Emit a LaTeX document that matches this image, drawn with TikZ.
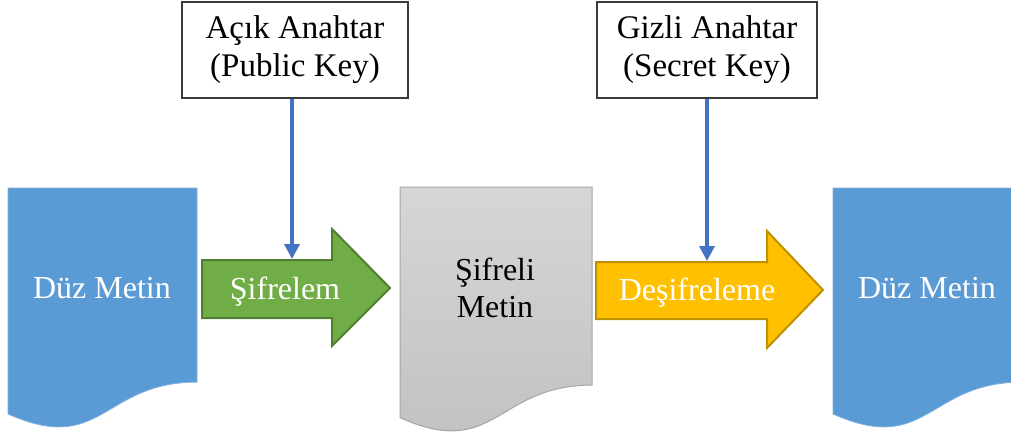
\documentclass[tikz,border=0pt]{standalone}
\usepackage{fontspec}
\setmainfont{Liberation Serif}
\usetikzlibrary{arrows.meta}

\definecolor{docblue}{HTML}{5B9BD5}
\definecolor{docblueedge}{HTML}{7FB1DE}
\definecolor{graytop}{HTML}{D6D6D6}
\definecolor{graybot}{HTML}{C0C0C0}
\definecolor{grayedge}{HTML}{A6A6A6}
\definecolor{encgreen}{HTML}{70AD47}
\definecolor{encedge}{HTML}{507E32}
\definecolor{decyellow}{HTML}{FFC000}
\definecolor{decedge}{HTML}{BF9000}
\definecolor{keyblue}{HTML}{4472C4}
\definecolor{boxedge}{HTML}{3A3A3A}

\begin{document}
\begin{tikzpicture}[x=1pt,y=-1pt,
  bigtext/.style={font=\fontsize{32}{37}\selectfont, align=center, inner sep=0pt},
  keybox/.style={draw=boxedge, line width=1.4pt, fill=white, align=center,
                 font=\fontsize{33}{38}\selectfont, inner sep=0pt,
                 minimum height=96pt},
  keyline/.style={draw=keyblue, line width=3.5pt,
                  -{Triangle[width=15pt,length=15pt]}},
  plaindoc/.style={fill=docblue, draw=docblueedge, line width=0.8pt},
  cipherdoc/.style={top color=graytop, bottom color=graybot, draw=grayedge, line width=1pt},
  encarrow/.style={fill=encgreen, draw=encedge, line width=2pt, line join=miter},
  decarrow/.style={fill=decyellow, draw=decedge, line width=2pt, line join=miter}
]
\useasboundingbox (0,0) rectangle (1011,434);

% plain text document (left)
\path[plaindoc] (8,188) -- (197,188) -- (197,382.1)
  .. controls (102.5,382.1) and (102.5,456) .. (8,414) -- cycle;
\node[bigtext, text=white] (plainL) at (102,288) {Düz Metin};

% cipher text document (middle)
\path[cipherdoc] (400,187) -- (592,187) -- (592,385.1)
  .. controls (496,385.1) and (496,460.5) .. (400,417.7) -- cycle;
\node[bigtext] (cipher) at (495,288) {Şifreli\\Metin};

% plain text document (right, runs past the edge)
\begin{scope}
\clip (0,0) rectangle (1011,434);
\path[plaindoc] (833,188) -- (1022,188) -- (1022,382.1)
  .. controls (927.5,382.1) and (927.5,456) .. (833,414) -- cycle;
\end{scope}
\node[bigtext, text=white] (plainR) at (927,288) {Düz Metin};

% encryption arrow
\path[encarrow] (202,260) -- (332,260) -- (332,229) -- (390,288)
  -- (332,346) -- (332,318) -- (202,318) -- cycle;
\node[bigtext, text=white] (enc) at (285,292) {Şifrelem};
\coordinate (encTop) at (292,259);

% decryption arrow
\path[decarrow] (596,262) -- (767,262) -- (767,231) -- (823,290)
  -- (767,348) -- (767,319) -- (596,319) -- cycle;
\node[bigtext, text=white] (dec) at (697,293) {Deşifreleme};
\coordinate (decTop) at (707,261);

% key boxes
\node[keybox, minimum width=226pt] (pub) at (295,50) {Açık Anahtar\\(Public Key)};
\node[keybox, minimum width=220pt] (sec) at (707,50) {Gizli Anahtar\\(Secret Key)};

% key inputs
\draw[keyline] (pub.south -| encTop) -- (encTop);
\draw[keyline] (sec.south -| decTop) -- (decTop);
\end{tikzpicture}
\end{document}
